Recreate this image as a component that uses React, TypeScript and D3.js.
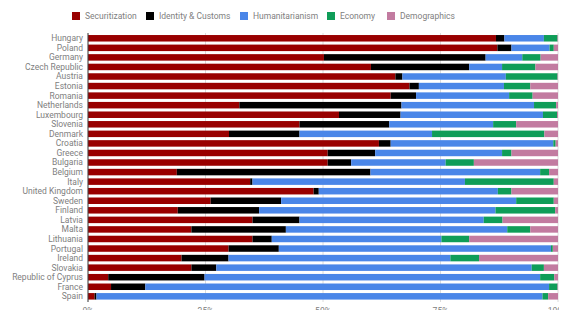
import React, { useRef, useEffect } from 'react';
import * as d3 from 'd3';

const countries = [
  'Hungary', 'Poland', 'Germany', 'Czech Republic', 'Austria', 'Estonia', 'Romania',
  'Netherlands', 'Luxembourg', 'Slovenia', 'Denmark', 'Croatia', 'Greece', 'Bulgaria',
  'Belgium', 'Italy', 'United Kingdom', 'Sweden', 'Finland', 'Latvia', 'Malta',
  'Lithuania', 'Portugal', 'Ireland', 'Slovakia', 'Republic of Cyprus', 'France', 'Spain',
];

const securitization = [86.8, 87.1, 50.2, 60.2, 65.4, 68.4, 64.4, 32.2, 53.4, 45.0, 30.0, 61.9, 51.0, 51.0, 18.9, 34.5, 48.0, 26.1, 19.1, 35.0, 22.0, 35.0, 29.9, 19.9, 22.0, 4.3, 4.9, 1.4];
const identity = [1.8, 3.0, 34.4, 20.9, 1.5, 2.0, 5.4, 34.5, 13.1, 19.1, 15.0, 2.5, 10.1, 5.0, 41.2, 0.5, 1.1, 15.0, 17.3, 10.0, 20.1, 4.1, 10.7, 10.0, 5.3, 20.5, 7.3, 0.4];
const humanitarianism = [8.4, 8.1, 7.8, 7.0, 22.0, 18.1, 19.8, 28.2, 30.3, 22.1, 28.2, 34.6, 27.0, 20.1, 36.1, 45.2, 38.1, 50.0, 50.3, 39.2, 47.1, 36.1, 57.9, 47.2, 67.1, 71.4, 85.9, 94.9];
const economy = [2.9, 0.9, 3.9, 7.1, 11.0, 5.6, 5.0, 4.7, 3.0, 4.9, 23.9, 0.5, 2.0, 6.0, 1.9, 18.9, 2.9, 8.0, 12.7, 4.0, 4.9, 5.9, 0.4, 6.1, 2.6, 3.0, 1.8, 1.2];
const demographics = [0.1, 0.9, 3.7, 4.8, 0.1, 5.9, 5.4, 0.4, 0.2, 8.9, 2.9, 0.5, 9.9, 17.9, 1.9, 0.9, 9.9, 0.9, 0.6, 11.8, 5.9, 18.9, 1.1, 16.8, 3.0, 0.8, 0.1, 2.1];

const seriesNames = ['Securitization', 'Identity & Customs', 'Humanitarianism', 'Economy', 'Demographics'];
const seriesColors = ['#990000', '#000000', '#4a86e8', '#0f9d58', '#c27ba0'];
const ticks = [0, 25, 50, 75, 100];

const width = 567;
const height = 318;

const Chart = () => {
  const svgRef = useRef<SVGSVGElement>(null);

  useEffect(() => {
    const svg = d3.select(svgRef.current).html('');
    const font = 'Roboto, Arial, sans-serif';
    const fontSize = 8.5;
    const textColor = '#808080';

    const rows = countries.map((c, i) => {
      const vals = [securitization[i], identity[i], humanitarianism[i], economy[i], demographics[i]];
      const total = d3.sum(vals);
      return { country: c, vals: vals.map(v => (v / total) * 100) };
    });

    const x = d3.scaleLinear().domain([0, 100]).range([88, 558]);
    const y = d3.scaleBand<string>()
      .domain(countries)
      .range([33.5, 301.1])
      .paddingInner(0.32)
      .paddingOuter(0.16);

    // gridlines
    svg.append('g')
      .selectAll('line')
      .data(ticks)
      .enter()
      .append('line')
      .attr('x1', d => x(d))
      .attr('x2', d => x(d))
      .attr('y1', 33)
      .attr('y2', 302)
      .attr('stroke', '#dcdcdc')
      .attr('stroke-width', 1);

    // bars
    rows.forEach(r => {
      let acc = 0;
      const segs = r.vals.map((v, k) => {
        const s = { x0: acc, x1: acc + v, k };
        acc += v;
        return s;
      });
      svg.append('g')
        .selectAll('rect')
        .data(segs)
        .enter()
        .append('rect')
        .attr('x', d => x(d.x0))
        .attr('y', y(r.country)!)
        .attr('width', d => Math.max(0, x(d.x1) - x(d.x0)))
        .attr('height', y.bandwidth())
        .attr('fill', d => seriesColors[d.k]);
    });

    // zero line above bars
    svg.append('line')
      .attr('x1', x(0)).attr('x2', x(0))
      .attr('y1', 33).attr('y2', 302)
      .attr('stroke', '#444');

    // y labels
    svg.append('g')
      .selectAll('text')
      .data(countries)
      .enter()
      .append('text')
      .attr('x', 83)
      .attr('y', d => y(d)! + y.bandwidth() / 2)
      .attr('dy', '0.35em')
      .attr('text-anchor', 'end')
      .attr('font-family', font)
      .attr('font-size', fontSize)
      .attr('fill', textColor)
      .text(d => d);

    // x labels
    svg.append('g')
      .selectAll('text')
      .data(ticks)
      .enter()
      .append('text')
      .attr('x', d => x(d))
      .attr('y', 314)
      .attr('text-anchor', 'middle')
      .attr('font-family', font)
      .attr('font-size', fontSize)
      .attr('fill', textColor)
      .text(d => d + '%');

    // legend
    const legendX = [72, 146, 240, 327, 387];
    const lg = svg.append('g')
      .selectAll('g')
      .data(seriesNames)
      .enter()
      .append('g')
      .attr('transform', (d, i) => `translate(${legendX[i]},16)`);
    lg.append('rect')
      .attr('x', 0)
      .attr('y', -4)
      .attr('width', 8)
      .attr('height', 8)
      .attr('fill', (d, i) => seriesColors[i]);
    lg.append('text')
      .attr('x', 13)
      .attr('dy', '0.35em')
      .attr('font-family', font)
      .attr('font-size', fontSize)
      .attr('fill', textColor)
      .text(d => d);
  }, []);

  return <svg ref={svgRef} width={width} height={height} style={{ display: 'block' }} />;
};

export default function App() {
  return (
    <div style={{ margin: -8 }}>
      <Chart />
    </div>
  );
}
